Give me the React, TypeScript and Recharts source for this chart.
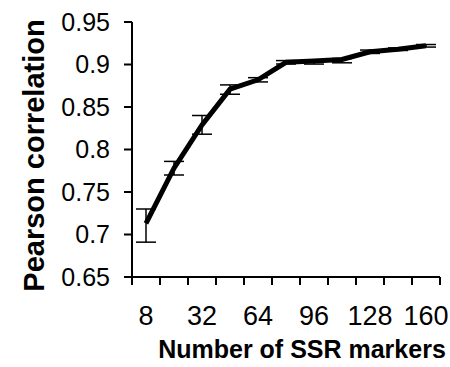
import React from 'react';
import { LineChart, Line, XAxis, YAxis, ErrorBar, Label } from 'recharts';

const categories = [8, 16, 32, 48, 64, 80, 96, 112, 128, 144, 160];
const labelledCategories = [8, 32, 64, 96, 128, 160];
const meanCorr = [0.713, 0.778, 0.829, 0.871, 0.882, 0.9026, 0.904, 0.906, 0.915, 0.918, 0.922];
const errLow = [0.022, 0.008, 0.011, 0.006, 0.0025, 0.002, 0.0035, 0.004, 0.002, 0.0015, 0.0015];
const errHigh = [0.017, 0.008, 0.011, 0.005, 0.0025, 0.002, 0.001, 0.001, 0.002, 0.0015, 0.0015];
const yTicks = [0.65, 0.7, 0.75, 0.8, 0.85, 0.9, 0.95];

const FONT = '"Liberation Sans", Arial, sans-serif';

const data = categories.map((n, i) => ({
  i,
  n,
  r: meanCorr[i],
  err: [errLow[i], errHigh[i]],
}));

const xTicks: number[] = categories
  .flatMap((_, i) => [i - 0.5, i])
  .concat(categories.length - 0.5);

const TICK_SIZE = 8;
const X_TICK_MARGIN = 21;

const XTick = (props: any) => {
  const { x, y, payload } = props;
  const v = payload.value;
  if (!Number.isInteger(v)) {
    return (
      <line
        x1={x}
        x2={x}
        y1={y - TICK_SIZE - X_TICK_MARGIN}
        y2={y - X_TICK_MARGIN}
        stroke="#000"
        strokeWidth={2}
      />
    );
  }
  const label = categories[v];
  if (!labelledCategories.includes(label)) return <g />;
  return (
    <text x={x} y={y} dy="0.71em" textAnchor="middle" fontSize={27} fontFamily={FONT} fill="#000">
      {label}
    </text>
  );
};

const YTitle = (props: any) => {
  const vb = props.viewBox || {};
  const x = 36;
  const y = (vb.y ?? 14) + (vb.height ?? 255) / 2 + 6;
  return (
    <text
      x={x}
      y={y}
      transform={`rotate(-90, ${x}, ${y})`}
      textAnchor="middle"
      fontSize={29}
      fontWeight="bold"
      fontFamily={FONT}
      fill="#000"
    >
      Pearson correlation
    </text>
  );
};

const XTitle = (props: any) => {
  const vb = props.viewBox || {};
  const x = (vb.x ?? 124) + (vb.width ?? 308) / 2 + 16;
  const y = (vb.y ?? 269) + 81;
  return (
    <text x={x} y={y} textAnchor="middle" fontSize={25} fontWeight="bold" fontFamily={FONT} fill="#000">
      Number of SSR markers
    </text>
  );
};

export default function App() {
  return (
    <div style={{ position: 'absolute', left: 8, top: 8, width: 442, height: 359 }}>
      <style>{`.recharts-surface { overflow: visible; }`}</style>
      <LineChart
        width={442}
        height={359}
        data={data}
        margin={{ top: 14, right: 10, bottom: 0, left: 0 }}
      >
        <XAxis
          dataKey="i"
          type="number"
          domain={[-0.5, categories.length - 0.5]}
          ticks={xTicks}
          interval={0}
          tick={<XTick />}
          tickLine={false}
          tickSize={TICK_SIZE}
          tickMargin={X_TICK_MARGIN}
          axisLine={{ stroke: '#000', strokeWidth: 2 }}
          height={90}
        >
          <Label content={<XTitle />} />
        </XAxis>
        <YAxis
          type="number"
          domain={[0.65, 0.95]}
          ticks={yTicks}
          interval={0}
          width={124}
          tickSize={TICK_SIZE}
          tickMargin={14}
          tick={{ fontSize: 25, fill: '#000', fontFamily: FONT }}
          tickLine={{ stroke: '#000', strokeWidth: 2 }}
          axisLine={{ stroke: '#000', strokeWidth: 2 }}
        >
          <Label content={<YTitle />} />
        </YAxis>
        <Line
          type="linear"
          dataKey="r"
          stroke="#000"
          strokeWidth={5}
          dot={false}
          isAnimationActive={false}
        >
          <ErrorBar dataKey="err" width={10} stroke="#000" strokeWidth={1.5} direction="y" />
        </Line>
      </LineChart>
    </div>
  );
}
